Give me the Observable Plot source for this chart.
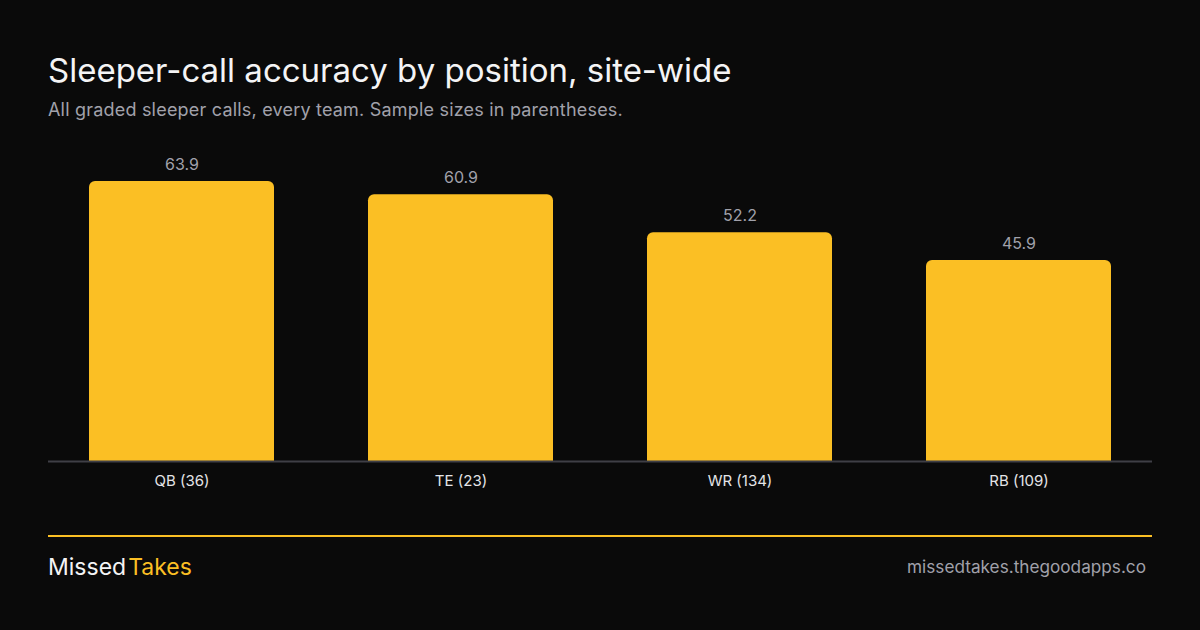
<!DOCTYPE html>
<html>
<head>
<meta charset="utf-8">
<script src="https://cdn.jsdelivr.net/npm/d3@7"></script>
<script src="https://cdn.jsdelivr.net/npm/@observablehq/plot@0.6"></script>
<style>
  html, body { margin: 0; padding: 0; background: #0a0a0a; }
  body { width: 1200px; height: 630px; position: relative; overflow: hidden; font-family: Inter, "Noto Sans", sans-serif; }
  #title { position: absolute; left: 48px; top: 50px; margin: 0; font-size: 33px; font-weight: 400; color: #f4f4f5; line-height: 40px; letter-spacing: 0; }
  #subtitle { position: absolute; left: 48px; top: 99px; margin: 0; font-size: 18px; color: #a1a1aa; line-height: 22px; letter-spacing: 0.2px; }
  #chart { position: absolute; left: 0; top: 140px; }
  #rule { position: absolute; left: 48px; top: 535px; width: 1104px; height: 2px; background: #fbbf24; }
  #brand { position: absolute; left: 48px; top: 552px; font-size: 23px; line-height: 30px; color: #f4f4f5; }
  #brand .t { color: #fbbf24; margin-left: 2px; }
  #url { position: absolute; right: 54px; top: 556px; font-size: 17.2px; line-height: 22px; color: #a1a1aa; }
</style>
</head>
<body>
<h1 id="title">Sleeper-call accuracy by position, site-wide</h1>
<p id="subtitle">All graded sleeper calls, every team. Sample sizes in parentheses.</p>
<div id="chart"></div>
<div id="rule"></div>
<div id="brand">Missed<span class="t">Takes</span></div>
<div id="url">missedtakes.thegoodapps.co</div>
<script>
const positions = ["QB", "TE", "WR", "RB"];
const samples = [36, 23, 134, 109];
const accuracy = [63.9, 60.9, 52.2, 45.9];

const data = positions.map((p, i) => ({ position: p, n: samples[i], value: accuracy[i] }));
const labelOf = new Map(data.map(d => [d.position, `${d.position} (${d.n})`]));

const chart = Plot.plot({
  width: 1200,
  height: 360,
  marginLeft: 48,
  marginRight: 48,
  marginTop: 14.3,
  marginBottom: 39,
  style: { background: "transparent", fontFamily: "Inter, 'Noto Sans', sans-serif" },
  x: { domain: positions, paddingInner: 0.338, paddingOuter: 0.143, label: null },
  y: { domain: [0, 70], axis: null },
  marks: [
    Plot.barY(data, { x: "position", y: "value", fill: "#fbbf24", ry1: 6 }),
    Plot.ruleY([0], { stroke: "#3f3f46", strokeWidth: 2 }),
    Plot.text(data, { x: "position", y: "value", text: d => d.value.toFixed(1), dy: -17, fill: "#a1a1aa", fontSize: 16 }),
    Plot.axisX({ tickSize: 0, tickPadding: 14, fontSize: 15, color: "#e4e4e7", tickFormat: p => labelOf.get(p), label: null })
  ]
});
document.getElementById("chart").appendChild(chart);
</script>
</body>
</html>
